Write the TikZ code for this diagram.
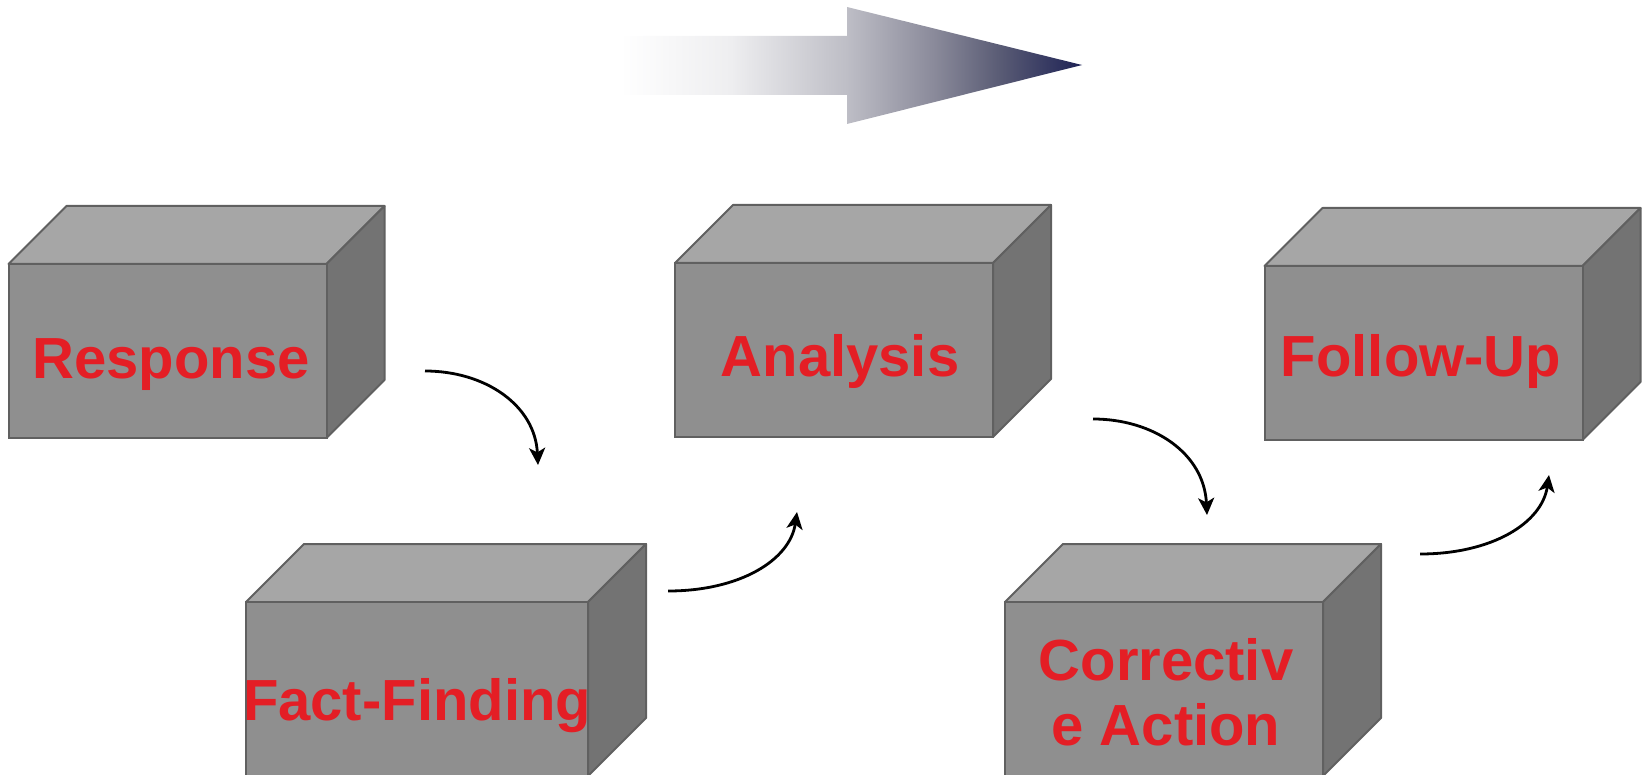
\documentclass[tikz,border=0pt]{standalone}
\usepackage{fontspec}
\setmainfont{Liberation Sans}
\usetikzlibrary{arrows.meta,backgrounds,calc}

\definecolor{frontc}{HTML}{8F8F8F}
\definecolor{topc}{HTML}{A6A6A6}
\definecolor{sidec}{HTML}{737373}
\definecolor{edgec}{HTML}{606060}
\definecolor{labred}{HTML}{E41E25}
\definecolor{arA}{HTML}{EEEEF0}
\definecolor{arB}{HTML}{BEBEC6}
\definecolor{arC}{HTML}{8A8A9A}
\definecolor{arD}{HTML}{5A5C75}
\definecolor{arE}{HTML}{1E2255}

\pgfdeclarehorizontalshading{bigarrow}{100bp}{color(0bp)=(white); color(25bp)=(white); color(37bp)=(arA); color(49.5bp)=(arB); color(59bp)=(arC); color(66bp)=(arD); color(75bp)=(arE); color(100bp)=(arE)}

\newcommand\boxfaces[1]{%
  \path[fill=topc,draw=edgec,line width=1pt,line join=round]
    (#1.north west) -- ++(58,-58) -- ($(#1.north east)+(58,-58)$) -- (#1.north east) -- cycle;
  \path[fill=sidec,draw=edgec,line width=1pt,line join=round]
    (#1.north east) -- ++(58,-58) -- ($(#1.south east)+(58,-58)$) -- (#1.south east) -- cycle;}

\begin{document}
\begin{tikzpicture}[x=0.5pt,y=-0.5pt,
  front/.style={rectangle,draw=edgec,line width=1pt,fill=frontc,
    minimum width=159pt,minimum height=87pt,inner sep=0pt,outer sep=0pt},
  lbl/.style={text=labred,font=\fontsize{29}{32.5}\selectfont\bfseries,
    align=center,inner sep=0pt,anchor=base},
  conn/.style={line width=1.4pt,-{Stealth[length=8.5pt,width=8pt,inset=2.2pt]}},
  ]
\useasboundingbox (0,0) rectangle (1648,775);

% big gradient arrow
\shade[shading=bigarrow]
  (620,36) -- (847,36) -- (847,7) -- (1082,65) -- (847,124) -- (847,95) -- (620,95) -- cycle;

% front faces
\node[front] (resp) at (167.5,351) {};
\node[front,minimum width=171pt] (fact) at (417,689) {};
\node[front] (anal) at (834,350) {};
\node[front] (corr) at (1164,689) {};
\node[front] (foll) at (1423.5,353) {};

\begin{pgfonlayer}{background}
\boxfaces{resp}
\boxfaces{fact}
\boxfaces{anal}
\boxfaces{corr}
\boxfaces{foll}
\end{pgfonlayer}

% labels
\node[lbl] (respT) at (171,378) {Response};
\node[lbl] (factT) at (417,720) {Fact-Finding};
\node[lbl] (analT) at (840,376) {Analysis};
\node[lbl] (corrT) at (1166,745) {Correctiv\\e Action};
\node[lbl] (follT) at (1421,376) {Follow-Up};

% connectors
\coordinate (c1s) at (425,371);  \coordinate (c1e) at (538,465);
\coordinate (c2s) at (668,591);  \coordinate (c2e) at (797,512);
\coordinate (c3s) at (1093,419); \coordinate (c3e) at (1207,515);
\coordinate (c4s) at (1420,554); \coordinate (c4e) at (1549,475);

\draw[conn] (c1s) .. controls (485,371) and (535,405) .. (c1e);
\draw[conn] (c2s) .. controls (740,591) and (790,560) .. (c2e);
\draw[conn] (c3s) .. controls (1153,419) and (1204,453) .. (c3e);
\draw[conn] (c4s) .. controls (1492,554) and (1542,523) .. (c4e);
\end{tikzpicture}
\end{document}
